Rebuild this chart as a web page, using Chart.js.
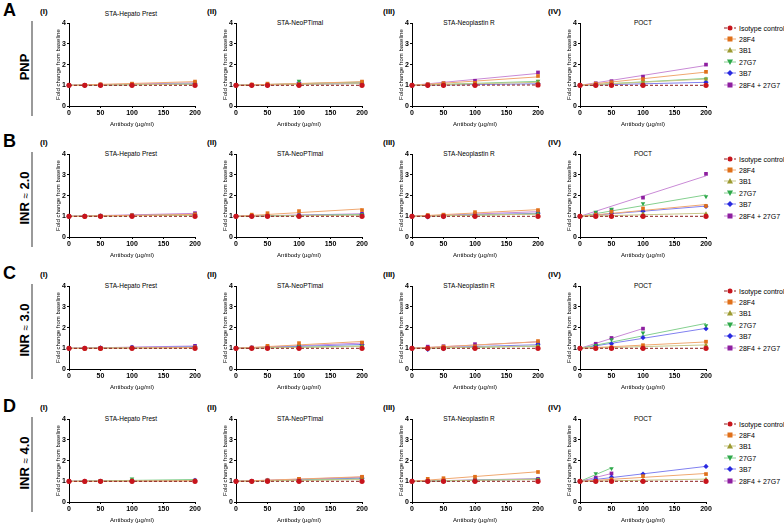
<!DOCTYPE html>
<html><head><meta charset="utf-8">
<script src="https://cdn.jsdelivr.net/npm/chart.js@4.4.0/dist/chart.umd.min.js"></script>
<style>
body{margin:0;width:784px;height:524px;position:relative;background:#fff;font-family:"Liberation Sans",Arial,sans-serif;overflow:hidden;color:#000}
.abs{position:absolute;white-space:nowrap;line-height:1}
canvas{position:absolute}
.letter{font-weight:bold;font-size:18px}
.rowlab{font-weight:bold;font-size:13px;transform:translate(-50%,-50%) rotate(-90deg)}
.rowlab .approx{font-weight:normal;font-size:10px}
.pnum{font-weight:bold;font-size:8px}
.ttl{font-size:6.5px;transform:translate(-50%,-50%)}
.vline{background:#9a9a9a;width:2px}
.leg{font-size:7px;transform:translateY(-50%)}
</style></head><body>
<script>
const FONT='"Liberation Sans", Arial, sans-serif';
const xValues=[0,25,50,100,200];
const xTickValues=[0,50,100,150,200];
const yTickValues=[0,1,2,3,4];
const seriesNames=["Isotype control","28F4","3B1","27G7","3B7","28F4 + 27G7"];
const rowLetters=["A","B","C","D"];
const rowLabels=["PNP","INR ≈ 2.0","INR ≈ 3.0","INR ≈ 4.0"];
const panelNumbers=["(I)","(II)","(III)","(IV)"];
const reagentTitles=["STA-Hepato Prest","STA-NeoPTimal","STA-Neoplastin  R","POCT"];

// rows: series in seriesNames order; columns: xValues (null = not measured)
const pnpHepato=[[1,1,1,1,1],[1,1.02,1.05,1.08,1.18],[1,1.0,1.02,1.03,1.05],[1,1.0,1.02,1.03,1.06],[1,1.0,1.0,1.02,1.08],[1,1.02,1.03,1.06,1.12]];
const pnpNeo=[[1,1,1,1,1],[1,1.04,1.08,1.05,1.18],[1,1.01,1.02,1.05,1.08],[1,1.01,1.03,1.2,1.1],[1,1.0,1.0,1.12,1.06],[1,1.02,1.04,1.08,1.14]];
const pnpNeoplastin=[[1,1,1,1,1.02],[1,1.05,1.1,1.12,1.45],[1,1.02,1.04,1.06,1.15],[1,1.02,1.04,1.08,1.2],[1,1.0,1.01,1.03,1.08],[1,1.05,1.1,1.22,1.62]];
const pnpPoct=[[1,1,1,1,1],[1,1.08,1.15,1.3,1.65],[1,1.04,1.08,1.15,1.3],[1,1.05,1.1,1.18,1.32],[1,1.02,1.04,1.06,1.15],[1,1.1,1.2,1.42,2.0]];

const inr2Hepato=[[1,1,1,1,1],[1,0.98,1.0,1.05,1.1],[1,1.02,1.02,1.04,1.05],[1,1.0,1.02,1.03,1.06],[1,1.0,1.01,1.04,1.1],[1,1.01,1.03,1.06,1.15]];
const inr2Neo=[[1,1,1,1,1],[1,1.08,1.15,1.25,1.3],[1,1.0,1.02,1.04,1.05],[1,1.02,1.03,1.05,1.08],[1,1.0,1.02,1.04,1.1],[1,1.02,1.04,1.06,1.12]];
const inr2Neoplastin=[[1,1,1,1,1],[1,1.06,1.08,1.2,1.3],[1,1.02,1.03,1.06,1.1],[1,1.0,1.03,1.05,1.12],[1,0.97,0.98,1.1,1.15],[1,1.03,1.05,1.12,1.22]];
const inr2Poct=[[1,1,1,1,1],[1,1.08,1.22,1.38,1.5],[1,1.02,1.05,1.12,1.12],[1,1.2,1.35,1.62,1.95],[1,1.1,1.15,1.25,1.48],[1,1.15,1.3,1.9,3.05]];

const inr3Hepato=[[1,1,1,1,1],[1,0.98,0.98,1.0,1.05],[1,1.0,1.0,1.02,1.03],[1,1.0,1.01,1.02,1.05],[1,1.0,1.02,1.04,1.08],[1,1.0,1.02,1.05,1.12]];
const inr3Neo=[[1,1,1,1,1],[1,1.03,1.12,1.25,1.28],[1,1.02,1.03,1.05,1.08],[1,1.02,1.03,1.08,1.1],[1,1.02,1.05,1.1,1.18],[1,1.04,1.08,1.12,1.25]];
const inr3Neoplastin=[[1,1,1,1,1],[1,1.02,1.08,1.1,1.35],[1,1.0,1.02,1.05,1.12],[1,1.0,1.02,1.05,1.1],[1,0.95,0.98,1.08,1.2],[1,1.08,1.1,1.2,1.28]];
const inr3Poct=[[1,1,1,1,1],[1,1.0,1.05,1.15,1.32],[1,1.03,1.05,1.1,1.15],[1,1.15,1.42,1.75,2.1],[1,1.12,1.22,1.52,1.95],[1,1.22,1.5,1.95,null]];

const inr4Hepato=[[1,1,1,1,1],[1,0.98,1.0,1.0,1.02],[1,1.0,1.0,1.05,1.03],[1,1.0,1.02,1.12,1.05],[1,1.0,1.0,1.02,1.05],[1,1.0,1.01,1.02,1.04]];
const inr4Neo=[[1,1,1,1,1],[1,1.0,1.05,1.12,1.22],[1,1.0,1.02,1.05,1.08],[1,1.0,1.03,1.05,1.12],[1,1.0,1.05,1.08,1.15],[1,1.02,1.05,1.1,1.2]];
const inr4Neoplastin=[[1,1,1,1,1],[1,1.12,1.15,1.22,1.45],[1,1.02,1.03,1.05,1.08],[1,1.02,1.04,1.06,1.1],[1,1.0,1.02,1.05,1.1],[1,1.02,1.05,1.08,1.12]];
const inr4Poct=[[1,1,1,1,1],[1,1.02,1.1,1.25,1.35],[1,1.03,1.05,1.05,1.1],[1,1.38,1.62,null,null],[1,1.1,1.2,1.35,1.72],[1,1.18,1.38,null,null]];

const panels=[[pnpHepato,pnpNeo,pnpNeoplastin,pnpPoct],[inr2Hepato,inr2Neo,inr2Neoplastin,inr2Poct],[inr3Hepato,inr3Neo,inr3Neoplastin,inr3Poct],[inr4Hepato,inr4Neo,inr4Neoplastin,inr4Poct]];

// styling
const pointColors=['#c8141c','#e0701a','#9c9a30','#2da84a','#2a2ae0','#8e1fa0'];
const lineColors=['#8b1a1a','#f0a870','#c9c88a','#84d08f','#8080f0','#c98ad6'];
const pointStyles=['circle','rect','triangle','triangle','rectRot','rect'];
const pointRotations=[0,0,0,180,0,0];

// layout
const colX0=[69,236,412,580];
const rowY4=[22,153,285,418];
const PW=126, PH=84, YW=14, XH=22, PT=4, PR=10;
const titleCenters=[131,300,469,643];
const pnumX=[40,207,383,548];

function add(cls,html,left,top){const d=document.createElement('div');d.className='abs '+cls;d.innerHTML=html;d.style.left=left+'px';d.style.top=top+'px';document.body.appendChild(d);return d;}

function fitLine(vals){
  const b=vals[0];let sxy=0,sxx=0,xm=0;
  xValues.forEach((x,j)=>{if(vals[j]!=null&&x>0){sxy+=x*(vals[j]-b);sxx+=x*x;xm=x;}});
  const s=sxx?sxy/sxx:0;
  return [{x:0,y:b},{x:xm,y:b+s*xm}];
}

rowLetters.forEach((L,r)=>{
  const y4=rowY4[r];
  add('letter',L,3,y4-21);
  const parts=rowLabels[r].split('≈');
  add('rowlab',parts.length>1?parts[0]+'<span class="approx">≈</span>'+parts[1]:parts[0],24,y4+45);
  const v=add('vline','',31,y4-1);v.style.height='95px';
  panels[r].forEach((data,c)=>{
    const x0=colX0[c];
    add('pnum',panelNumbers[c],pnumX[c],y4-14);
    add('ttl',reagentTitles[c],titleCenters[c],(r===0&&c===0)?y4-8:y4+1);
    const cv=document.createElement('canvas');
    const W=YW+PW+PR,H=PT+PH+XH;
    cv.width=W;cv.height=H;cv.style.left=(x0-YW)+'px';cv.style.top=(y4-PT)+'px';
    cv.style.width=W+'px';cv.style.height=H+'px';
    document.body.appendChild(cv);
    const ds=[];
    data.forEach((vals,i)=>{
      ds.push({data:fitLine(vals),showLine:true,borderColor:lineColors[i],borderWidth:1,borderDash:i===0?[3,2]:[],pointRadius:0,clip:false,order:2});
    });
    data.forEach((vals,i)=>{
      const pts=[];xValues.forEach((x,j)=>{if(vals[j]!=null)pts.push({x:x,y:vals[j]});});
      ds.push({data:pts,showLine:false,pointStyle:pointStyles[i],rotation:pointRotations[i],pointRadius:2.6,backgroundColor:pointColors[i],borderColor:pointColors[i],borderWidth:0,clip:false,order:1});
    });
    new Chart(cv,{type:'scatter',data:{datasets:ds},options:{
      responsive:false,animation:false,devicePixelRatio:1,
      layout:{padding:{top:PT,right:PR,left:0,bottom:0}},
      plugins:{legend:{display:false},tooltip:{enabled:false}},
      scales:{
        x:{type:'linear',min:0,max:200,
          afterBuildTicks:s=>{s.ticks=xTickValues.map(v=>({value:v}));},
          afterFit:s=>{s.height=XH;},
          grid:{display:true,drawOnChartArea:false,drawTicks:true,tickLength:2,color:'#000',lineWidth:1},
          border:{display:true,color:'#000',width:1},
          ticks:{font:{size:7,weight:'bold',family:FONT},color:'#000',padding:1,maxRotation:0,autoSkip:false},
          title:{display:true,text:'Antibody (µg/ml)',font:{size:6,family:FONT},color:'#000',padding:{top:1,bottom:0}}},
        y:{type:'linear',min:0,max:4,
          afterBuildTicks:s=>{s.ticks=yTickValues.map(v=>({value:v}));},
          afterFit:s=>{s.width=YW;},
          grid:{display:true,drawOnChartArea:false,drawTicks:true,tickLength:2,color:'#000',lineWidth:1},
          border:{display:true,color:'#000',width:1},
          ticks:{font:{size:7,weight:'bold',family:FONT},color:'#000',padding:1},
          title:{display:true,text:'Fold change from baseline',font:{size:6,family:FONT},color:'#000',padding:{top:0,bottom:0}}}
      }}});
  });
  // legend
  seriesNames.forEach((n,i)=>{
    const cy=y4+5.5+i*11.4;
    const col=pointColors[i];
    let shape='';
    if(i===0) shape=`<circle cx="6" cy="3" r="2.5" fill="${col}"/>`;
    else if(i===1||i===5) shape=`<rect x="3.5" y="0.5" width="5" height="5" fill="${col}"/>`;
    else if(i===2) shape=`<polygon points="6,0 9,5.5 3,5.5" fill="${col}"/>`;
    else if(i===3) shape=`<polygon points="3,0.5 9,0.5 6,6" fill="${col}"/>`;
    else shape=`<polygon points="6,0 9,3 6,6 3,3" fill="${col}"/>`;
    const dash=i===0?' stroke-dasharray="3,2"':'';
    const svg=`<svg width="12" height="6" style="display:block"><line x1="0" y1="3" x2="12" y2="3" stroke="${lineColors[i]}" stroke-width="1"${dash}/>${shape}</svg>`;
    add('',svg,724,cy-3);
    add('leg',n,739,cy);
  });
});
</script>
</body></html>
